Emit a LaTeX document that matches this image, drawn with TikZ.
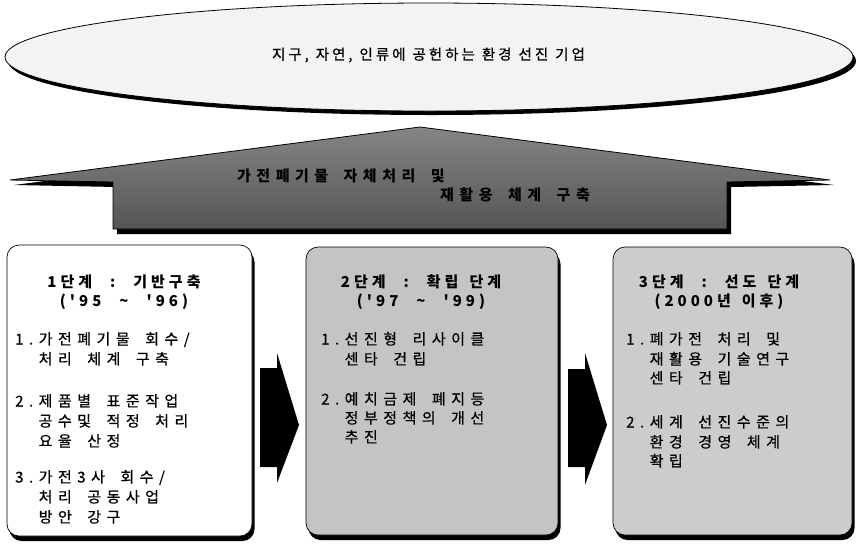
\documentclass[tikz,border=0pt]{standalone}
\usepackage{fontspec}
\usetikzlibrary{shapes.geometric,shadows}
\newfontfamily\kr{Noto Sans CJK KR}
\newfontfamily\krm[FakeBold=0.6]{Noto Sans CJK KR}
\newlength\lsp \setlength\lsp{4pt}
\newlength\wsp \setlength\wsp{7pt}
\makeatletter
\def\spaced#1{\spaced@#1\@nil}
\def\spaced@#1{%
  \ifx#1\@nil
  \else
    \ifx#1~\hspace{\wsp}\else #1\kern\lsp\fi
    \expandafter\spaced@
  \fi}
\makeatother
\definecolor{stagegray}{HTML}{C4C4C4}
\definecolor{stagegraylt}{HTML}{CCCCCC}
\definecolor{goalfill}{HTML}{F3F3F3}
\definecolor{arrowtop}{HTML}{858585}
\definecolor{arrowbot}{HTML}{555555}
\tikzset{
  blackshadow/.style={drop shadow={shadow xshift=2.5pt, shadow yshift=-5pt, fill=black, opacity=1}},
  stagebox/.style={draw=black, line width=0.7pt, rounded corners=12pt, blackshadow},
  txtline/.style={anchor=west, inner sep=0pt, text height=11pt, text depth=2pt,
    font=\krm\fontsize{15}{19}\selectfont\setlength\lsp{5.5pt}\setlength\wsp{10pt}},
  titletxt/.style={align=center, inner sep=0pt, font=\kr\bfseries\fontsize{15}{19}\selectfont},
  arrowtxt/.style={anchor=west, inner sep=0pt, text height=11pt, text depth=2pt,
    font=\kr\bfseries\fontsize{15}{19}\selectfont\setlength\lsp{5.5pt}\setlength\wsp{10pt}},
  blockarrow/.style={fill=black},
}
\begin{document}
\begin{tikzpicture}[x=1pt,y=-1pt]
\useasboundingbox[fill=white] (0,0) rectangle (856,550);

% goal ellipse
\node[ellipse, draw=black, line width=0.8pt, fill=goalfill, minimum width=848pt, minimum height=108pt,
      drop shadow={shadow xshift=3pt, shadow yshift=-4pt, fill=black, opacity=1}] (goal) at (429,57) {};
\node[inner sep=0pt, font=\krm\fontsize{14.5}{16}\selectfont] (goaltxt) at (430,55)
  {\setlength\lsp{3pt}\setlength\wsp{4pt}\spaced{지구,~자연,~인류에~공헌하는~환경~선진~기업}};

% big upward arrow
\begin{scope}[shift={(4,5)}]
\fill[black] (10,180) -- (420,127) -- (830,180) -- (727,182) -- (727,229) -- (113,229) -- (113,182) -- cycle;
\end{scope}
\path[draw=black, line width=0.8pt, top color=arrowtop, bottom color=arrowbot]
  (10,180) -- (420,127) -- (830,180) -- (727,182) -- (727,229) -- (113,229) -- (113,182) -- cycle;
\node[arrowtxt] (goalA) at (237,177) {\spaced{가전폐기물~자체처리~및}};
\node[arrowtxt] (goalB) at (440,196) {\spaced{재활용~체계~구축}};

% stage boxes
\node[stagebox, fill=white, minimum width=245pt, minimum height=291pt] (b1) at (129.5,390.5) {};
\node[stagebox, fill=stagegray, minimum width=252pt, minimum height=288pt] (b2) at (432,391) {};
\node[stagebox, fill=stagegraylt, minimum width=239pt, minimum height=288pt] (b3) at (732.5,391) {};

% block arrows between boxes
\fill[blockarrow] (260,368) -- (277,368) -- (277,353) -- (299,425) -- (277,483) -- (277,467) -- (260,467) -- cycle;
\fill[blockarrow] (568,369) -- (585,369) -- (585,353) -- (607,425) -- (585,485) -- (585,467) -- (568,467) -- cycle;

% box 1
\node[titletxt] (t1) at (126,292.5) {\spaced{1단계~~:~~기반구축}\\\spaced{('95~~\textasciitilde~~'96)}};
\node[txtline] (b1a) at (15,340) {\spaced{1.가전폐기물~회수/}};
\node[txtline] (b1b) at (15,360) {\phantom{\spaced{1.}}\spaced{처리~체계~구축}};
\node[txtline] (b1c) at (15,402) {\spaced{2.제품별~표준작업}};
\node[txtline] (b1d) at (15,422) {\phantom{\spaced{2.}}\spaced{공수및~적정~처리}};
\node[txtline] (b1e) at (15,442) {\phantom{\spaced{2.}}\spaced{요율~산정}};
\node[txtline] (b1f) at (15,478) {\spaced{3.가전3사~회수/}};
\node[txtline] (b1g) at (15,498) {\phantom{\spaced{3.}}\spaced{처리~공동사업}};
\node[txtline] (b1h) at (15,518) {\phantom{\spaced{3.}}\spaced{방안~강구}};

% box 2
\node[titletxt] (t2) at (423,292.5) {\spaced{2단계~~:~~확립~단계}\\\spaced{('97~~\textasciitilde~~'99)}};
\node[txtline] (b2a) at (321,340) {\spaced{1.선진형~리사이클}};
\node[txtline] (b2b) at (321,360) {\phantom{\spaced{1.}}\spaced{센타~건립}};
\node[txtline] (b2c) at (321,400) {\spaced{2.예치금제~폐지등}};
\node[txtline] (b2d) at (321,419) {\phantom{\spaced{2.}}\spaced{정부정책의~개선}};
\node[txtline] (b2e) at (321,438) {\phantom{\spaced{2.}}\spaced{추진}};

% box 3
\node[titletxt] (t3) at (721,292.5) {\spaced{3단계~~:~~선도~단계}\\\spaced{(2000년~이후)}};
\node[txtline] (b3a) at (626,340) {\spaced{1.폐가전~처리~및}};
\node[txtline] (b3b) at (626,360) {\phantom{\spaced{1.}}\spaced{재활용~기술연구}};
\node[txtline] (b3c) at (626,379) {\phantom{\spaced{1.}}\spaced{센타~건립}};
\node[txtline] (b3d) at (626,423) {\spaced{2.세계~선진수준의}};
\node[txtline] (b3e) at (626,443) {\phantom{\spaced{2.}}\spaced{환경~경영~체계}};
\node[txtline] (b3f) at (626,462) {\phantom{\spaced{2.}}\spaced{확립}};
\end{tikzpicture}
\end{document}
